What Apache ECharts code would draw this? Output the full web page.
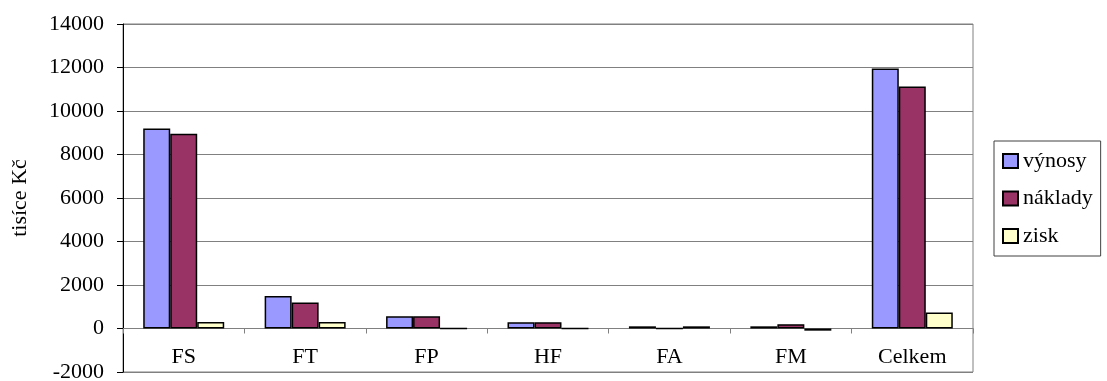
<!DOCTYPE html>
<html>
<head>
<meta charset="utf-8">
<script src="https://cdn.jsdelivr.net/npm/echarts@6/dist/echarts.min.js"></script>
<style>
html,body{margin:0;padding:0;background:#fff;}
#chart{width:1107px;height:381px;}
</style>
</head>
<body>
<div id="chart"></div>
<script>
const categories = ['FS','FT','FP','HF','FA','FM','Celkem'];
const vynosy  = [9200, 1500, 560, 290, 100, 100, 11950];
const naklady = [8950, 1200, 560, 290, 0, 200, 11130];
const zisk    = [300, 300, 0, 0, 100, -100, 735];
const seriesNames = ['výnosy','náklady','zisk'];
const yTitle = 'tisíce Kč';

const font = 'Liberation Serif';
const chart = echarts.init(document.getElementById('chart'));
const barStyle = c => ({color: c, borderColor: '#000', borderWidth: 1.5});
chart.setOption({
  animation: false,
  textStyle: {fontFamily: font},
  grid: {left: 123, right: 134, top: 24, bottom: 9, show: true, borderColor: '#808080', borderWidth: 1, containLabel: false, outerBoundsMode: 'none'},
  legend: {
    orient: 'vertical', left: 994, top: 141,
    icon: 'rect', itemWidth: 15, itemHeight: 14, itemGap: 13.5,
    padding: [8, 8, 8, 8],
    borderColor: '#404040', borderWidth: 1,
    textStyle: {fontFamily: font, fontSize: 22, color: '#000', lineHeight: 24},
    data: seriesNames
  },
  xAxis: [{
    type: 'category', data: categories,
    axisLine: {onZero: true, lineStyle: {color: '#808080', width: 1}},
    axisTick: {show: true, length: 5, lineStyle: {color: '#808080'}},
    axisLabel: {show: false},
    splitLine: {show: false}
  }, {
    type: 'category', data: categories, position: 'bottom',
    axisLine: {show: false, onZero: false},
    axisTick: {show: false},
    axisLabel: {show: true, inside: true, fontFamily: font, fontSize: 22, color: '#000', margin: 4},
    splitLine: {show: false}
  }],
  yAxis: {
    type: 'value', min: -2000, max: 14000, interval: 2000,
    name: yTitle, nameLocation: 'middle', nameRotate: 90, nameGap: 92,
    nameTextStyle: {fontFamily: font, fontSize: 22, color: '#000'},
    axisLine: {show: true, lineStyle: {color: '#000'}},
    axisTick: {show: true, length: 6, lineStyle: {color: '#000'}},
    axisLabel: {fontFamily: font, fontSize: 22, color: '#000', margin: 19, formatter: v => String(v)},
    splitLine: {show: true, lineStyle: {color: '#808080', width: 1}}
  },
  series: [
    {name: seriesNames[0], type: 'bar', data: vynosy, barGap: '0%', barCategoryGap: '33.3%', itemStyle: barStyle('#9999FF')},
    {name: seriesNames[1], type: 'bar', data: naklady, itemStyle: barStyle('#993366')},
    {name: seriesNames[2], type: 'bar', data: zisk, itemStyle: barStyle('#FFFFCC')}
  ]
});
</script>
</body>
</html>
